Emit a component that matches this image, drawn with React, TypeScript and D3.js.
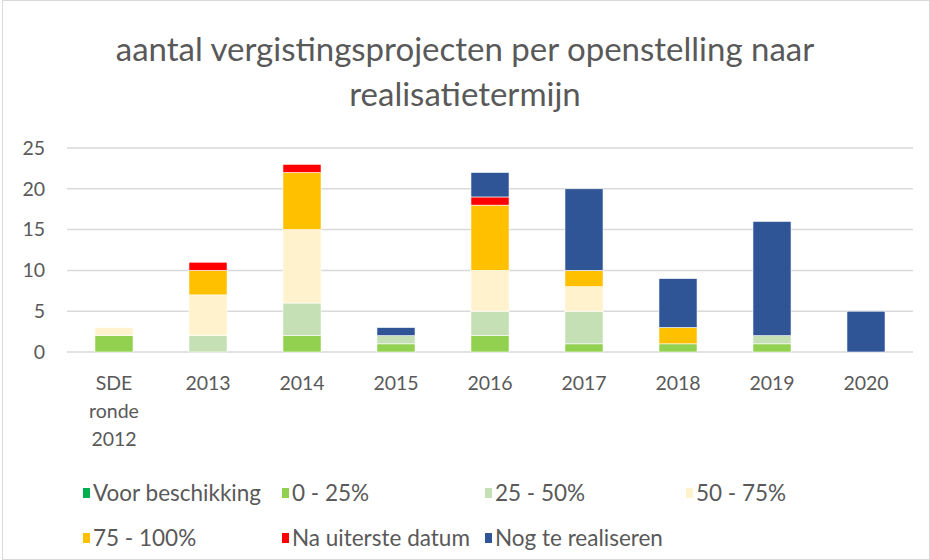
import React, { useEffect, useRef } from 'react';
import * as d3 from 'd3';

const categories = ['SDE ronde 2012', '2013', '2014', '2015', '2016', '2017', '2018', '2019', '2020'];
const seriesNames = ['Voor beschikking', '0 - 25%', '25 - 50%', '50 - 75%', '75 - 100%', 'Na uiterste datum', 'Nog te realiseren'];
const voorBeschikking = [0, 0, 0, 0, 0, 0, 0, 0, 0];
const pct0to25 = [2, 0, 2, 1, 2, 1, 1, 1, 0];
const pct25to50 = [0, 2, 4, 1, 3, 4, 0, 1, 0];
const pct50to75 = [1, 5, 9, 0, 5, 3, 0, 0, 0];
const pct75to100 = [0, 3, 7, 0, 8, 2, 2, 0, 0];
const naUitersteDatum = [0, 1, 1, 0, 1, 0, 0, 0, 0];
const nogTeRealiseren = [0, 0, 0, 1, 3, 10, 6, 14, 5];
const yTicks = [0, 5, 10, 15, 20, 25];
const colors = ['#00b050', '#92d050', '#c5e0b4', '#fff2cc', '#ffc000', '#ff0000', '#2f5597'];

const W = 930;
const H = 560;
const margin = { top: 148, right: 17, bottom: 208, left: 67 };
const FONT = 'Lato, "Open Sans", sans-serif';

const Chart: React.FC = () => {
    const ref = useRef<SVGSVGElement>(null);

    useEffect(() => {
        if (!ref.current) return;
        const svg = d3.select(ref.current);
        svg.selectAll('*').remove();

        const series = [voorBeschikking, pct0to25, pct25to50, pct50to75, pct75to100, naUitersteDatum, nogTeRealiseren];
        const rows = categories.map((c, i) => {
            const row: Record<string, number | string> = { cat: c };
            seriesNames.forEach((s, k) => (row[s] = series[k][i]));
            return row;
        });

        const width = W - margin.left - margin.right;
        const height = H - margin.top - margin.bottom;

        svg.append('rect')
            .attr('x', 2.5).attr('y', 0.5)
            .attr('width', W - 3).attr('height', H - 1)
            .attr('fill', '#fff').attr('stroke', '#d9d9d9');

        // titel
        const title = svg.append('text')
            .attr('text-anchor', 'middle')
            .attr('fill', '#595959').attr('font-family', FONT).attr('font-size', 33);
        title.append('tspan').attr('x', W / 2).attr('y', 61).text('aantal vergistingsprojecten per openstelling naar');
        title.append('tspan').attr('x', W / 2).attr('y', 106).text('realisatietermijn');

        const g = svg.append('g').attr('transform', `translate(${margin.left},${margin.top})`);

        const x = d3.scaleBand().domain(categories).range([0, width]).paddingInner(0.595).paddingOuter(0.2975);
        const y = d3.scaleLinear().domain([0, 25]).range([height, 0]);

        // rasterlijnen
        g.append('g').selectAll('line').data(yTicks).enter().append('line')
            .attr('x1', 0).attr('x2', width)
            .attr('y1', (d) => y(d)).attr('y2', (d) => y(d))
            .attr('stroke', '#d9d9d9').attr('stroke-width', 1.5);

        const yAxis = g.append('g').call(d3.axisLeft(y).tickValues(yTicks).tickSize(0).tickPadding(22));
        yAxis.select('.domain').remove();
        yAxis.selectAll('text').attr('fill', '#595959').attr('font-size', 19.5).attr('font-family', FONT);

        const stack = d3.stack<Record<string, number | string>>().keys(seriesNames).value((d, k) => d[k] as number);
        const layers = stack(rows);

        g.append('g').selectAll('g').data(layers).enter().append('g')
            .attr('fill', (d, i) => colors[i])
            .selectAll('rect').data((d) => d.filter((p) => p[1] - p[0] > 0)).enter().append('rect')
            .attr('x', (d) => x(d.data.cat as string)!)
            .attr('width', x.bandwidth())
            .attr('y', (d) => y(d[1]))
            .attr('height', (d) => y(d[0]) - y(d[1]))
            .attr('stroke', '#ffffff').attr('stroke-width', 0.6);

        // categorie-labels
        const xl = g.append('g').attr('transform', `translate(0,${height})`);
        categories.forEach((c) => {
            const lines = c === 'SDE ronde 2012' ? ['SDE', 'ronde', '2012'] : [c];
            const t = xl.append('text')
                .attr('text-anchor', 'middle').attr('fill', '#595959')
                .attr('font-family', FONT).attr('font-size', 19.5);
            lines.forEach((l, i) => {
                t.append('tspan').attr('x', x(c)! + x.bandwidth() / 2).attr('y', 38 + i * 28).text(l);
            });
        });

        // legenda
        const legendPos = [
            [83, 493], [282, 493], [485, 493], [686, 493],
            [83, 538], [282, 538], [485, 538],
        ];
        const legend = svg.append('g').selectAll('g').data(seriesNames).enter().append('g')
            .attr('transform', (d, i) => `translate(${legendPos[i][0]},${legendPos[i][1]})`);
        legend.append('rect')
            .attr('x', 0).attr('y', -5).attr('width', 7).attr('height', 10)
            .attr('fill', (d, i) => colors[i]);
        legend.append('text')
            .attr('x', 10).attr('y', 0).attr('dy', '0.35em')
            .attr('fill', '#595959').attr('font-family', FONT).attr('font-size', 22.5)
            .text((d) => d);
    }, []);

    return <svg ref={ref} width={W} height={H} style={{ position: 'absolute', left: 0, top: 0 }} />;
};

export default function App() {
    return <Chart />;
}
